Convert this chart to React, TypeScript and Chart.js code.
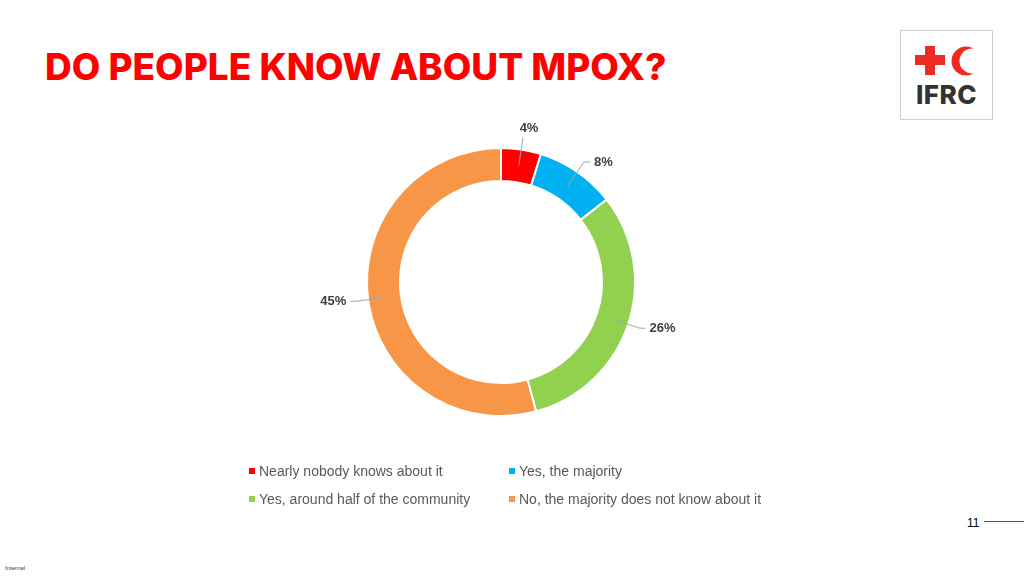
import React, { useEffect, useRef } from "react";
import { Chart, registerables } from "chart.js";

Chart.register(...registerables);

const categories = [
  "Nearly nobody knows about it",
  "Yes, the majority",
  "Yes, around half of the community",
  "No, the majority does not know about it",
];
const values = [4, 8, 26, 45];
const valueLabels = ["4%", "8%", "26%", "45%"];
const colors = ["#FF0000", "#00B0F0", "#92D050", "#F79646"];
const legendOrder = [0, 1, 2, 3];

const labelPlugin = {
  id: "leaderLabels",
  afterDatasetsDraw(chart: any) {
    const ctx = chart.ctx;
    const meta = chart.getDatasetMeta(0);
    ctx.save();
    meta.data.forEach((arc: any, i: number) => {
      const { x, y, startAngle, endAngle, innerRadius, outerRadius } = arc.getProps(
        ["x", "y", "startAngle", "endAngle", "innerRadius", "outerRadius"],
        true
      );
      const mid = (startAngle + endAngle) / 2;
      const cos = Math.cos(mid);
      const sin = Math.sin(mid);
      const rMid = (innerRadius + outerRadius) / 2;
      const sx = x + cos * rMid;
      const sy = y + sin * rMid;
      const rEnd = outerRadius + 12;
      const ex = x + cos * rEnd;
      const ey = y + sin * rEnd;
      ctx.strokeStyle = "#A6A6A6";
      ctx.lineWidth = 1;
      ctx.beginPath();
      ctx.moveTo(sx, sy);
      ctx.lineTo(ex, ey);
      ctx.font = "bold 13px 'Liberation Sans', Arial, sans-serif";
      ctx.fillStyle = "#404040";
      ctx.textBaseline = "middle";
      if (Math.abs(cos) < 0.3 && sin < 0) {
        ctx.stroke();
        ctx.textAlign = "center";
        ctx.fillText(valueLabels[i], ex + 6, ey - 9);
      } else {
        const dir = cos >= 0 ? 1 : -1;
        const hx = ex + dir * 6;
        ctx.lineTo(hx, ey);
        ctx.stroke();
        ctx.textAlign = dir > 0 ? "left" : "right";
        ctx.fillText(valueLabels[i], hx + dir * 4, ey);
      }
    });
    ctx.restore();
  },
};

function DonutChart() {
  const ref = useRef<HTMLCanvasElement | null>(null);
  useEffect(() => {
    if (!ref.current) return;
    const chart = new Chart(ref.current, {
      type: "doughnut",
      data: {
        labels: categories,
        datasets: [
          {
            data: values,
            backgroundColor: colors,
            borderColor: "#FFFFFF",
            borderWidth: 2,
          },
        ],
      },
      options: {
        responsive: false,
        animation: false,
        radius: 134,
        cutout: "75.4%",
        layout: { padding: 0 },
        plugins: {
          legend: { display: false },
          tooltip: { enabled: false },
        },
      },
      plugins: [labelPlugin],
    });
    return () => chart.destroy();
  }, []);
  return (
    <canvas
      ref={ref}
      width={400}
      height={400}
      style={{ position: "absolute", left: 301, top: 82, width: 400, height: 400 }}
    />
  );
}

export default function App() {
  const legendFont = "'Liberation Sans', Arial, sans-serif";
  return (
    <div
      style={{
        position: "absolute",
        left: 0,
        top: 0,
        width: 1024,
        height: 576,
        background: "#FFFFFF",
        overflow: "hidden",
      }}
    >
      <div
        style={{
          position: "absolute",
          left: 45,
          top: 48,
          fontFamily: "Inter, sans-serif",
          fontWeight: 800,
          fontSize: 37,
          lineHeight: "37px",
          color: "#FF0000",
          whiteSpace: "nowrap",
        }}
      >
        DO PEOPLE KNOW ABOUT MPOX?
      </div>

      <div
        style={{
          position: "absolute",
          left: 900,
          top: 30,
          width: 93,
          height: 90,
          border: "1px solid #CFCFCF",
          boxSizing: "border-box",
        }}
      >
        <svg width={93} height={90} style={{ position: "absolute", left: -1, top: -1 }}>
          <rect x={15} y={25} width={30} height={10} fill="#EE2A24" />
          <rect x={25} y={16} width={10} height={29} fill="#EE2A24" />
          <circle cx={66} cy={31} r={14.5} fill="#EE2A24" />
          <circle cx={72} cy={31} r={12.5} fill="#FFFFFF" />
          <text
            x={46.5}
            y={74}
            textAnchor="middle"
            fontFamily="Inter, sans-serif"
            fontWeight={800}
            fontSize={26}
            letterSpacing={0.5}
            fill="#333333"
          >
            IFRC
          </text>
        </svg>
      </div>

      <DonutChart />

      {legendOrder.map((i) => {
        const col = i % 2;
        const row = Math.floor(i / 2);
        return (
          <div
            key={i}
            style={{
              position: "absolute",
              left: col === 0 ? 249 : 509,
              top: 462 + row * 28,
              height: 17,
              display: "flex",
              alignItems: "center",
              fontFamily: legendFont,
              fontSize: 14,
              color: "#595959",
              whiteSpace: "nowrap",
            }}
          >
            <span
              style={{
                display: "inline-block",
                width: 6,
                height: 6,
                background: colors[i],
                marginRight: 4,
              }}
            />
            {categories[i]}
          </div>
        );
      })}

      <div
        style={{
          position: "absolute",
          left: 967,
          top: 516,
          fontFamily: "'Liberation Sans Narrow', 'Liberation Sans', Arial, sans-serif",
          fontSize: 12,
          color: "#000000",
        }}
      >
        11
      </div>
      <div
        style={{
          position: "absolute",
          left: 984,
          top: 521,
          width: 40,
          height: 1,
          background: "#44546A",
        }}
      />
      <div
        style={{
          position: "absolute",
          left: 5,
          top: 565,
          fontFamily: "'Liberation Sans', Arial, sans-serif",
          fontSize: 6,
          color: "#404040",
        }}
      >
        Internal
      </div>
    </div>
  );
}
